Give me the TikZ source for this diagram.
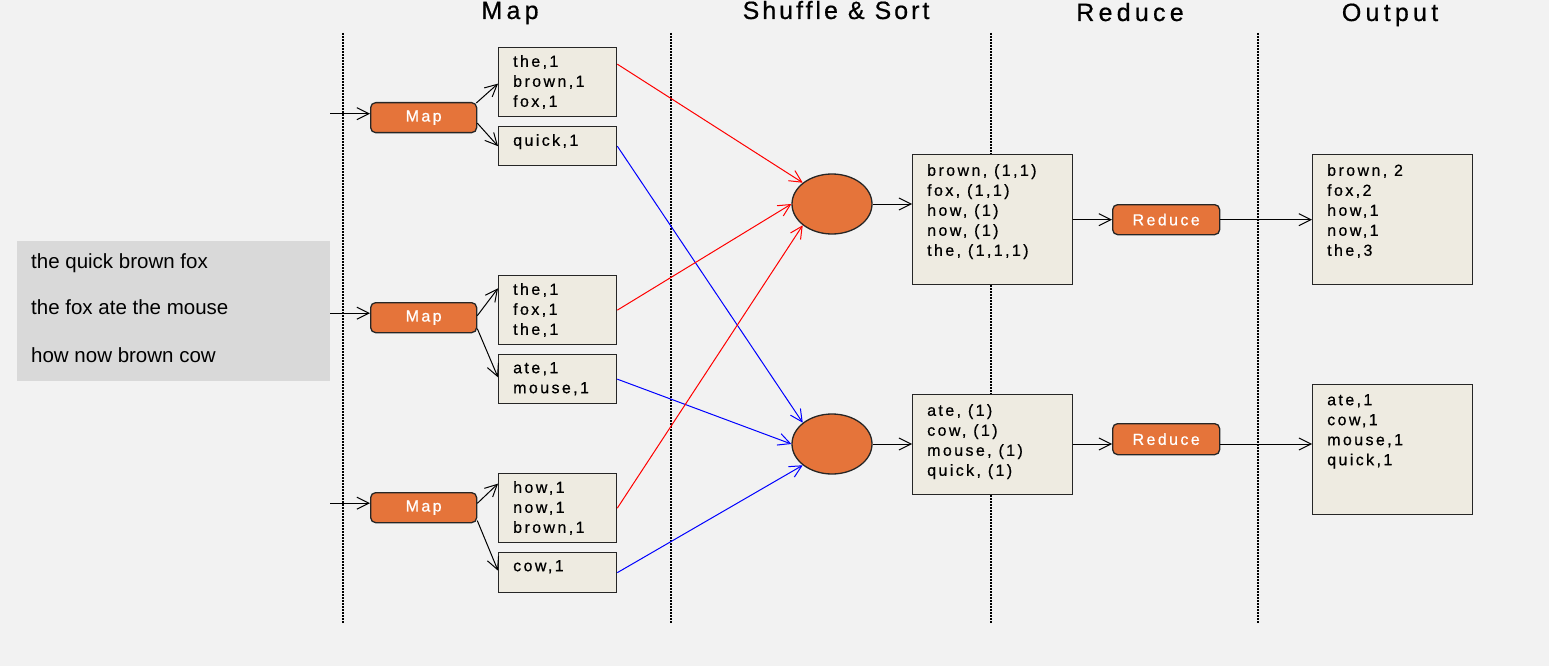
\documentclass[tikz,border=0pt]{standalone}
\usepackage{fontspec}
\setmainfont{Liberation Sans}
\newfontfamily\spc[LetterSpace=15,FakeBold=0.6]{Liberation Sans}
\newfontfamily\hdA[LetterSpace=17,FakeBold=0.6]{Liberation Sans}
\newfontfamily\hdB[LetterSpace=12,FakeBold=0.6]{Liberation Sans}
\usetikzlibrary{arrows.meta,calc,shapes.geometric}
\definecolor{bgc}{HTML}{F2F2F2}
\definecolor{inboxc}{HTML}{D9D9D9}
\definecolor{boxfill}{HTML}{EEEBE1}
\definecolor{orng}{HTML}{E5743A}
\begin{document}
\begin{tikzpicture}[x=1pt,y=-1pt,
  kv/.style={draw=black!85, line width=1.3pt, fill=boxfill, anchor=north west, inner sep=0pt},
  kvt/.style={anchor=north west, inner sep=0pt, align=left, font=\spc\fontsize{16}{20}\selectfont},
  btn/.style={draw=black!85, line width=1.3pt, fill=orng, rounded corners=5pt, minimum height=30pt, anchor=north west, inner sep=0pt, text=white, font=\spc\fontsize{16}{18}\selectfont},
  arr/.style={-{Straight Barb[length=12pt,width=12pt]}, line width=1pt, black},
  redarr/.style={arr, red},
  bluearr/.style={arr, blue},
  sep/.style={dash pattern=on 2pt off 1pt, line width=1.2pt, black},
  head/.style={anchor=base, inner sep=0pt},
  intext/.style={anchor=base west, inner sep=0pt, font=\fontsize{20.5}{24}\selectfont},
  hub/.style={ellipse, draw=black!85, line width=1.3pt, fill=orng, minimum width=80pt, minimum height=60pt, inner sep=0pt}
]
\useasboundingbox (0,0) rectangle (1549,666);
\fill[bgc] (0,0) rectangle (1549,666);

% headings
\node[head, font=\hdA\fontsize{25}{27}\selectfont] (hmap) at (510,19) {Map};
\node[head, font=\hdB\fontsize{25}{27}\selectfont] (hshuf) at (836,19) {Shuffle \& Sort};
\node[head, font=\hdA\fontsize{25}{27}\selectfont] (hred) at (1130,21) {Reduce};
\node[head, font=\hdA\fontsize{25}{27}\selectfont] (hout) at (1390,21) {Output};

% separators
\coordinate (s1t) at (343,33); \coordinate (s1b) at (343,623);
\coordinate (s2t) at (671,33); \coordinate (s2b) at (671,623);
\coordinate (s3t) at (991,33); \coordinate (s3b) at (991,623);
\coordinate (s4t) at (1258,33); \coordinate (s4b) at (1258,623);
\draw[sep] (s1t) -- (s1b);
\draw[sep] (s2t) -- (s2b);
\draw[sep] (s3t) -- (s3b);
\draw[sep] (s4t) -- (s4b);

% input
\node[fill=inboxc, minimum width=313pt, minimum height=140pt, anchor=north west, inner sep=0pt] (inbox) at (17,241) {};
\node[intext] (l1) at (31,268) {the quick brown fox};
\node[intext] (l2) at (31,314) {the fox ate the mouse};
\node[intext] (l3) at (31,362) {how now brown cow};

% map buttons
\node[btn, minimum width=106pt] (m1) at (370,102) {Map};
\node[btn, minimum width=106pt] (m2) at (370,302) {Map};
\node[btn, minimum width=106pt] (m3) at (370,492) {Map};

% map outputs
\node[kv, minimum width=118pt, minimum height=69pt] (b1) at (498,47) {};
\node[kv, minimum width=118pt, minimum height=39pt] (b2) at (498,126) {};
\node[kv, minimum width=118pt, minimum height=69pt] (b3) at (498,275) {};
\node[kv, minimum width=118pt, minimum height=49pt] (b4) at (498,354) {};
\node[kv, minimum width=118pt, minimum height=69pt] (b5) at (498,473) {};
\node[kv, minimum width=118pt, minimum height=40pt] (b6) at (498,552) {};
\node[kvt] (b1t) at ([shift={(15pt,-8pt)}]b1.north west) {the,1\\brown,1\\fox,1};
\node[kvt] (b2t) at ([shift={(15pt,-8pt)}]b2.north west) {quick,1};
\node[kvt] (b3t) at ([shift={(15pt,-8pt)}]b3.north west) {the,1\\fox,1\\the,1};
\node[kvt] (b4t) at ([shift={(15pt,-8pt)}]b4.north west) {ate,1\\mouse,1};
\node[kvt] (b5t) at ([shift={(15pt,-8pt)}]b5.north west) {how,1\\now,1\\brown,1};
\node[kvt] (b6t) at ([shift={(15pt,-8pt)}]b6.north west) {cow,1};

% hubs
\node[hub] (c1) at (832,204) {};
\node[hub] (c2) at (832,444) {};

% shuffle boxes
\node[kv, minimum width=160pt, minimum height=130pt] (sb1) at (912,154) {};
\node[kv, minimum width=160pt, minimum height=100pt] (sb2) at (912,394) {};
\node[kvt] (sb1t) at ([shift={(15pt,-10pt)}]sb1.north west) {brown, (1,1)\\fox, (1,1)\\how, (1)\\now, (1)\\the, (1,1,1)};
\node[kvt] (sb2t) at ([shift={(15pt,-10pt)}]sb2.north west) {ate, (1)\\cow, (1)\\mouse, (1)\\quick, (1)};

% reduce buttons
\node[btn, minimum width=107pt] (r1) at (1112,204) {Reduce};
\node[btn, minimum width=107pt, minimum height=31pt] (r2) at (1112,423) {Reduce};

% output boxes
\node[kv, minimum width=160pt, minimum height=130pt] (o1) at (1312,154) {};
\node[kv, minimum width=160pt, minimum height=130pt] (o2) at (1312,384) {};
\node[kvt] (o1t) at ([shift={(15pt,-10pt)}]o1.north west) {brown, 2\\fox,2\\how,1\\now,1\\the,3};
\node[kvt] (o2t) at ([shift={(15pt,-10pt)}]o2.north west) {ate,1\\cow,1\\mouse,1\\quick,1};

% input arrows
\coordinate (m1in) at ([yshift=4pt]m1.west);
\coordinate (m2in) at ([yshift=4.5pt]m2.west);
\coordinate (m3in) at ([yshift=4.5pt]m3.west);
\draw[arr] (inbox.east |- m1in) -- (m1in);
\draw[arr] (inbox.east |- m2in) -- (m2in);
\draw[arr] (inbox.east |- m3in) -- (m3in);

% map to outputs
\draw[arr] ([xshift=-1pt,yshift=-1pt]m1.north east) -- ([yshift=-1.5pt]b1.west);
\draw[arr] ([yshift=-5.5pt]m1.east) -- (b2.west);
\draw[arr] ([yshift=2pt]m2.east) -- ([yshift=21.8pt]b3.west);
\draw[arr] ([yshift=-11pt]m2.east) -- ([yshift=1.8pt]b4.west);
\draw[arr] ([yshift=4.3pt]m3.east) -- ([yshift=24.5pt]b5.west);
\draw[arr] ([yshift=-13pt]m3.east) -- ([yshift=2pt]b6.west);

% shuffle
\draw[redarr] ([yshift=18pt]b1.east) -- (c1.144);
\draw[bluearr] (b2.east) -- (c2.144);
\draw[redarr] (b3.east) -- (c1.west);
\draw[bluearr] (b4.east) -- (c2.west);
\draw[redarr] (b5.east) -- (c1.216);
\draw[bluearr] (b6.east) -- (c2.216);

% hub to boxes
\draw[arr] (c1.east) -- (sb1.west |- c1.east);
\draw[arr] (c2.east) -- (sb2.west |- c2.east);

% reduce
\draw[arr] (sb1.east |- r1.west) -- (r1.west);
\draw[arr] (sb2.east |- c2.east) -- (r2.west |- c2.east);
\draw[arr] (r1.east) -- (o1.west |- r1.east);
\draw[arr] (r2.east |- c2.east) -- (o2.west |- c2.east);
\end{tikzpicture}
\end{document}
